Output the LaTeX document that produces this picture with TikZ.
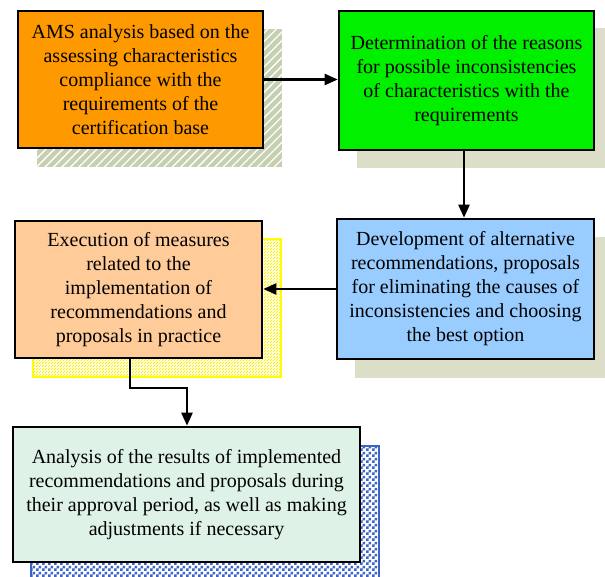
\documentclass[tikz,border=0pt]{standalone}
\usepackage{fontspec}
\setmainfont{Liberation Serif}
\usetikzlibrary{arrows.meta,patterns,patterns.meta}
\definecolor{cOrange}{RGB}{255,153,0}
\definecolor{cGreen}{RGB}{0,240,0}
\definecolor{cBlue}{RGB}{153,204,255}
\definecolor{cPeach}{RGB}{255,204,153}
\definecolor{cMint}{RGB}{222,242,232}
\definecolor{cOlive}{RGB}{198,208,176}
\definecolor{cBeige}{RGB}{220,222,200}
\definecolor{cYel}{RGB}{255,255,0}
\definecolor{cYelBg}{RGB}{255,255,215}
\definecolor{cChk}{RGB}{60,100,200}
\pgfdeclarepatternformonly{smallchecker}{\pgfpointorigin}{\pgfpoint{6pt}{6pt}}{\pgfpoint{6pt}{6pt}}{%
  \pgfpathrectangle{\pgfpointorigin}{\pgfpoint{3pt}{3pt}}%
  \pgfpathrectangle{\pgfpoint{3pt}{3pt}}{\pgfpoint{3pt}{3pt}}%
  \pgfusepath{fill}}
\pgfdeclarepatternformonly{smalldots}{\pgfpointorigin}{\pgfpoint{3pt}{3pt}}{\pgfpoint{3pt}{3pt}}{%
  \pgfpathrectangle{\pgfpointorigin}{\pgfpoint{1pt}{1pt}}%
  \pgfpathrectangle{\pgfpoint{1.5pt}{1.5pt}}{\pgfpoint{1pt}{1pt}}%
  \pgfusepath{fill}}
\tikzset{
  box/.style={draw=black, line width=2.6pt, align=center, inner sep=0pt,
    font=\fontsize{20}{24}\selectfont, text=black},
  conn/.style={line width=2.4pt, -{Triangle[length=13pt,width=11pt]}},
}
\begin{document}
\begin{tikzpicture}[x=1pt,y=-1pt]
\useasboundingbox (0,0) rectangle (605,577);
\begin{scope}
\clip (0,0) rectangle (605,577);
% shadows
\fill[cOlive] (37,29) rectangle (282,167);
\fill[pattern={Lines[angle=45,distance=6pt,line width=1.3pt]}, pattern color=white] (37,29) rectangle (282,167);
\fill[cBeige] (357,28) rectangle (612,168);
\fill[cBeige] (355,237) rectangle (612,378);
\filldraw[fill=cYelBg, draw=cYel, line width=1.4pt] (33,239) rectangle (281,377);
\fill[pattern=smalldots, pattern color=cYel!85!orange] (33,239) rectangle (281,377);
\filldraw[fill=white, draw=cChk, line width=1.4pt] (31,446) rectangle (379,580);
\fill[pattern=smallchecker, pattern color=cChk] (31,446) rectangle (379,580);
\end{scope}
% boxes
\node[box, fill=cOrange, minimum width=245pt, minimum height=137pt] (b1) at (140.5,79.5)
  {AMS analysis based on the\\assessing characteristics\\compliance with the\\requirements of the\\certification base};
\node[box, fill=cGreen, minimum width=255pt, minimum height=139pt] (b2) at (466.5,80.5)
  {Determination of the reasons\\for possible inconsistencies\\of characteristics with the\\requirements};
\node[box, fill=cBlue, minimum width=257pt, minimum height=140pt] (b3) at (465.5,289)
  {Development of alternative\\recommendations, proposals\\for eliminating the causes of\\inconsistencies and choosing\\the best option};
\node[box, fill=cPeach, minimum width=247pt, minimum height=137pt] (b4) at (138.5,289.5)
  {Execution of measures\\related to the\\implementation of\\recommendations and\\proposals in practice};
\node[box, fill=cMint, minimum width=347pt, minimum height=135pt] (b5) at (186.5,494.5)
  {Analysis of the results of implemented\\recommendations and proposals during\\their approval period, as well as making\\adjustments if necessary};
% connectors
\draw[conn] (b1.east) -- (b2.west |- b1.east);
\draw[conn] (b2.south -| 464,0) -- (b3.north -| 464,0);
\draw[conn] (b3.west) -- (b4.east |- b3.west);
\coordinate (k1) at (130,388);
\coordinate (k2) at (187,388);
\draw[conn] (b4.south -| k1) -- (k1) -- (k2) -- (b5.north -| k2);
\end{tikzpicture}
\end{document}
